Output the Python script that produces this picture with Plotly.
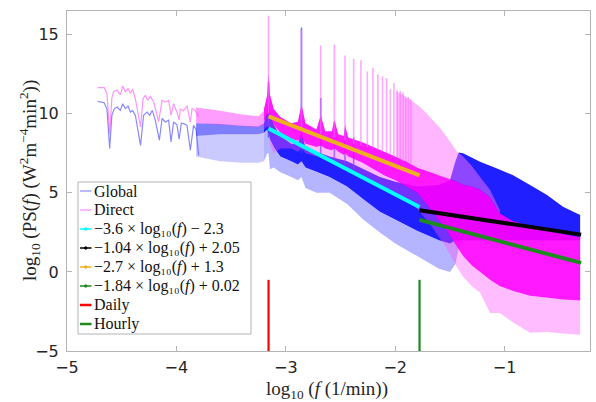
import numpy as np
import plotly.graph_objects as go

# ---------------- data ----------------
# Low-frequency part of the spectra (individual points visible)
GLOBAL_LF_X = [-4.72, -4.66, -4.635, -4.61, -4.59, -4.567, -4.542, -4.512, -4.491, -4.467, -4.442,
               -4.421, -4.40, -4.375, -4.328, -4.30, -4.268, -4.245, -4.22, -4.193, -4.156, -4.131,
               -4.101, -4.071, -4.049, -4.026, -3.995, -3.975, -3.955, -3.934, -3.903, -3.873,
               -3.843, -3.82, -3.797]
GLOBAL_LF_Y = [10.79, 10.7, 10.3, 7.8, 9.9, 10.33, 10.43, 10.22, 10.64, 10.33, 10.49,
               10.11, 10.2, 9.9, 8.0, 9.9, 10.11, 9.9, 10.22, 9.6, 8.33, 9.7,
               9.48, 9.6, 8.22, 9.48, 9.3, 8.4, 9.4, 9.38, 9.27, 7.7,
               9.27, 9.0, 7.38]
DIRECT_LF_X = [-4.72, -4.66, -4.635, -4.61, -4.59, -4.574, -4.542, -4.512, -4.491, -4.467, -4.442,
               -4.421, -4.40, -4.375, -4.328, -4.305, -4.284, -4.263, -4.238, -4.208, -4.163,
               -4.131, -4.101, -4.071, -4.049, -4.026, -3.995, -3.975, -3.964, -3.934, -3.903,
               -3.873, -3.857, -3.827, -3.797]
DIRECT_LF_Y = [11.65, 11.65, 11.3, 8.75, 11.0, 11.4, 11.5, 11.2, 11.75, 11.4, 11.6,
               11.3, 11.55, 10.95, 9.17, 10.96, 11.17, 10.85, 11.1, 10.75, 9.5,
               10.85, 10.75, 10.85, 9.9, 10.64, 10.1, 9.6, 10.3, 10.2, 10.5,
               9.48, 10.33, 10.2, 9.8]

# Transition part (-3.8 .. -3.2): oscillating, semi-transparent bands
LEFT_X = [-3.82, -3.6, -3.4, -3.25, -3.2]
DIRECT_LEFT_UP = [10.4, 10.2, 9.95, 9.85, 10.2]
DIRECT_LEFT_LO = [9.4, 9.3, 9.2, 9.15, 9.3]
GLOBAL_LEFT_UP = [9.4, 9.35, 9.25, 9.2, 9.4]
GLOBAL_LEFT_LO = [8.6, 8.7, 8.7, 8.7, 8.8]
GLOBAL_LEFT_TAIL = [7.3, 7.0, 6.9, 6.9, 7.0]

# Dense part of the Global spectrum: envelopes
GLOBAL_BAND_X = [-3.2, -3.17, -3.158, -3.145, -3.11, -3.05, -2.95, -2.89, -2.857, -2.82, -2.72,
                 -2.6, -2.44, -2.29, -2.14, -2.0, -1.8, -1.6, -1.5, -1.45, -1.42, -1.38, -1.225,
                 -1.07, -0.923, -0.768, -0.613, -0.467, -0.31]
GLOBAL_BAND_UP = [9.4, 10.2, 11.0, 10.0, 9.3, 8.6, 8.1, 8.1, 8.8, 7.9, 7.6,
                  7.3, 7.0, 6.5, 6.0, 5.7, 5.4, 5.5, 5.8, 7.0, 7.55, 7.5, 6.96,
                  6.54, 6.12, 5.49, 4.86, 4.12, 3.6]
GLOBAL_BAND_LO = [8.8, 9.0, 8.8, 8.4, 7.9, 7.3, 7.0, 6.8, 7.0, 6.6, 6.3,
                  6.0, 5.4, 4.6, 3.8, 3.3, 2.6, 2.0, 1.8, 2.0, 2.0, 2.0, 2.0,
                  2.0, 2.0, 2.0, 2.0, 2.0, 2.0]
GLOBAL_TAIL_LO = [7.0, 7.5, 7.5, 6.5, 6.6, 6.3, 6.0, 5.8, 6.0, 5.3, 5.0,
                  5.0, 4.3, 3.3, 2.5, 1.8, 1.0, 0.2, 0.0, 0.5, 1.5, 2.0, 2.0,
                  2.0, 2.0, 2.0, 2.0, 2.0, 2.0]

# Dense part of the Direct spectrum: envelopes
DIRECT_BAND_X = [-3.2, -3.17, -3.158, -3.145, -3.11, -3.05, -2.95, -2.89, -2.857, -2.82, -2.72,
                 -2.681, -2.64, -2.58, -2.556, -2.52, -2.47, -2.459, -2.43, -2.3, -2.2, -2.1,
                 -2.0, -1.9, -1.8, -1.68, -1.53, -1.435, -1.38, -1.3, -1.225, -1.134, -1.043,
                 -0.923, -0.768, -0.613, -0.467, -0.31]
DIRECT_BAND_UP = [10.3, 11.2, 12.5, 11.2, 10.3, 9.8, 9.4, 9.5, 10.6, 9.4, 9.0,
                  9.9, 8.9, 8.9, 9.6, 8.7, 8.6, 9.3, 8.5, 8.2, 7.9, 7.6,
                  7.3, 7.0, 6.6, 6.3, 5.9, 5.7, 5.5, 5.4, 5.2, 4.7, 3.7,
                  3.2, 2.9, 2.65, 2.4, 2.2]
DIRECT_BAND_LO = [9.5, 9.9, 10.0, 9.8, 9.3, 8.8, 8.4, 8.3, 8.5, 8.1, 7.9,
                  8.0, 7.8, 7.7, 7.8, 7.6, 7.4, 7.5, 7.3, 6.9, 6.5, 6.1,
                  5.8, 5.4, 5.0, 4.0, 2.6, 1.6, 1.0, 0.4, 0.0, -0.5, -0.9,
                  -1.2, -1.5, -1.65, -1.75, -1.8]
DIRECT_TAIL_LO = [9.0, 9.2, 9.2, 8.0, 7.5, 7.8, 7.8, 7.6, 7.8, 7.5, 7.3,
                  7.4, 7.2, 7.0, 7.0, 6.8, 6.6, 6.6, 6.5, 6.1, 5.7, 5.3,
                  5.0, 4.5, 4.0, 3.0, 1.5, 0.3, -0.3, -0.9, -1.3, -2.6, -2.6,
                  -3.2, -3.85, -3.8, -3.9, -3.97]

# Envelope of the dense harmonic spikes of the Direct spectrum
DIRECT_SPIKE_ENV_X = [-1.99, -1.93, -1.865, -1.836, -1.773, -1.711, -1.653, -1.59, -1.529, -1.47,
                      -1.435, -1.38, -1.3, -1.225, -1.134, -1.043]
DIRECT_SPIKE_ENV_TOP = [11.4, 11.2, 10.9, 10.75, 10.43, 10.0, 9.6, 9.1, 8.54, 7.9,
                        7.6, 7.3, 6.7, 6.0, 5.2, 3.9]
DIRECT_SPIKE_ENV_BASE = [7.3, 7.1, 6.9, 6.75, 6.55, 6.4, 6.2, 6.1, 5.9, 5.8,
                         5.7, 5.5, 5.4, 5.2, 4.7, 3.7]

# Daily harmonics (cycles per day) and peak heights
HARMONIC_CPD = list(range(1, 21))
DIRECT_PEAK = [16.2, 15.3, 14.32, 14.38, 13.69, 13.48, 13.38, 12.68, 12.91, 12.49,
               12.37, 12.26, 11.55, 11.94, 11.48, 11.44, 11.34, 11.0, 11.06, 10.9]
DIRECT_PEAK_BASE = [10.0, 9.0, 8.7, 8.5, 8.3, 8.1, 8.0, 7.9, 7.8, 7.7,
                    7.6, 7.5, 7.4, 7.3, 7.2, 7.1, 7.0, 7.0, 6.9, 6.8]
GLOBAL_PEAK_CPD = [1, 2, 3, 4, 5, 6]
GLOBAL_PEAK = [12.0, 15.45, 11.0, 9.5, 9.0, 8.5]
GLOBAL_PEAK_BASE = [8.5, 7.5, 7.2, 7.0, 6.8, 6.5]

MIN_PER_DAY = 1440.0

# Fitted lines (end points)
FIT_LABELS = ["\u22123.6 \u00d7 log\u2081\u2080(<i>f</i>) \u2212 2.3",
              "\u22121.04 \u00d7 log\u2081\u2080(<i>f</i>) + 2.05",
              "\u22122.7 \u00d7 log\u2081\u2080(<i>f</i>) + 1.3",
              "\u22121.84 \u00d7 log\u2081\u2080(<i>f</i>) + 0.02"]
FIT_X = [[-3.158, -1.778], [-1.778, -0.301], [-3.158, -1.778], [-1.778, -0.301]]
FIT_Y = [[9.07, 4.10], [3.90, 2.36], [9.83, 6.10], [3.29, 0.57]]
FIT_COLORS = ["#00ffff", "#000000", "#edb120", "#1f8a1f"]

# Daily and hourly markers
MARK_LABELS = ["Daily", "Hourly"]
MARK_X = [-3.158, -1.778]
MARK_Y = [-5.0, -0.5]
MARK_COLORS = ["#ff0000", "#1f8a1f"]

XTICKS = [-5, -4, -3, -2, -1]
YTICKS = [-5, 0, 5, 10, 15]

# Legend entries (label, colour, has dot marker)
LEGEND_LABELS = ["Global", "Direct"] + FIT_LABELS + MARK_LABELS
LEGEND_COLORS = ["#a3a3ff", "#ffa3ff"] + FIT_COLORS + MARK_COLORS
LEGEND_DOT = [False, False, True, True, True, True, False, False]
LEGEND_WIDTH = [1.5, 1.5, 1.5, 1.5, 1.5, 1.5, 2.5, 2.5]

# ---------------- figure ----------------
fig = go.Figure()


def band(xs, lo, hi, color):
    px = list(xs) + list(xs)[::-1]
    py = list(hi) + list(lo)[::-1]
    return go.Scatter(x=px, y=py, fill="toself", fillcolor=color, mode="lines",
                      line=dict(width=0), hoverinfo="skip", showlegend=False)


def spikes(xs, base, top, color, width):
    sx, sy = [], []
    for x, b, t in zip(xs, base, top):
        sx += [x, x, None]
        sy += [b, t, None]
    return go.Scatter(x=sx, y=sy, mode="lines", line=dict(color=color, width=width),
                      hoverinfo="skip", showlegend=False)


# Global
fig.add_trace(go.Scatter(x=GLOBAL_LF_X, y=GLOBAL_LF_Y, mode="lines", name="Global",
                         line=dict(color="rgba(40,40,255,0.55)", width=1.2), showlegend=False))
fig.add_trace(band(LEFT_X, GLOBAL_LEFT_TAIL, GLOBAL_LEFT_LO, "rgba(90,90,255,0.32)"))
fig.add_trace(band(LEFT_X, GLOBAL_LEFT_LO, GLOBAL_LEFT_UP, "rgba(40,40,255,0.6)"))
fig.add_trace(band(GLOBAL_BAND_X, GLOBAL_TAIL_LO, GLOBAL_BAND_LO, "rgba(70,70,255,0.4)"))
fig.add_trace(band(GLOBAL_BAND_X, GLOBAL_BAND_LO, GLOBAL_BAND_UP, "rgba(0,0,255,0.88)"))
gx = [np.log10(c / MIN_PER_DAY) for c in GLOBAL_PEAK_CPD]
fig.add_trace(spikes(gx, GLOBAL_PEAK_BASE, GLOBAL_PEAK, "rgba(60,60,255,0.7)", 1.6))

# Direct
fig.add_trace(go.Scatter(x=DIRECT_LF_X, y=DIRECT_LF_Y, mode="lines", name="Direct",
                         line=dict(color="rgba(255,60,255,0.55)", width=1.2), showlegend=False))
fig.add_trace(band(LEFT_X, DIRECT_LEFT_LO, DIRECT_LEFT_UP, "rgba(255,60,255,0.5)"))
fig.add_trace(band(DIRECT_BAND_X, DIRECT_TAIL_LO, DIRECT_BAND_LO, "rgba(255,80,255,0.38)"))
fig.add_trace(band(DIRECT_SPIKE_ENV_X, DIRECT_SPIKE_ENV_BASE, DIRECT_SPIKE_ENV_TOP,
                   "rgba(255,110,255,0.5)"))
fig.add_trace(band(DIRECT_BAND_X, DIRECT_BAND_LO, DIRECT_BAND_UP, "rgba(255,0,255,0.9)"))
dx = [np.log10(c / MIN_PER_DAY) for c in HARMONIC_CPD]
fig.add_trace(spikes(dx, DIRECT_PEAK_BASE, DIRECT_PEAK, "rgba(255,110,255,0.6)", 1.6))

# Fits
for lab, xs, ys, col in zip(FIT_LABELS, FIT_X, FIT_Y, FIT_COLORS):
    fig.add_trace(go.Scatter(x=xs, y=ys, mode="lines", name=lab, showlegend=False,
                             line=dict(color=col, width=4)))

# Daily / hourly
for lab, x, col in zip(MARK_LABELS, MARK_X, MARK_COLORS):
    fig.add_trace(go.Scatter(x=[x, x], y=MARK_Y, mode="lines", name=lab, showlegend=False,
                             line=dict(color=col, width=2.2)))

# ---- legend box drawn in paper coordinates (MATLAB-like compact legend) ----
PLOT_L, PLOT_R, PLOT_T, PLOT_B = 67, 590, 11, 351


def pxx(p):
    return (p - PLOT_L) / (PLOT_R - PLOT_L)


def pxy(p):
    return (PLOT_B - p) / (PLOT_B - PLOT_T)


shapes = [dict(type="rect", xref="paper", yref="paper", x0=pxx(78), x1=pxx(251),
               y0=pxy(334), y1=pxy(182), line=dict(color="#b4b4b4", width=1),
               fillcolor="white", layer="above")]
annotations = []
for i, (lab, col, dot, w) in enumerate(zip(LEGEND_LABELS, LEGEND_COLORS, LEGEND_DOT, LEGEND_WIDTH)):
    yc = 191 + 19 * i
    shapes.append(dict(type="line", xref="paper", yref="paper", x0=pxx(80), x1=pxx(91.5),
                       y0=pxy(yc), y1=pxy(yc), line=dict(color=col, width=w), layer="above"))
    if dot:
        shapes.append(dict(type="circle", xref="paper", yref="paper",
                           x0=pxx(84.5), x1=pxx(87), y0=pxy(yc + 1.25), y1=pxy(yc - 1.25),
                           line=dict(color=col, width=1), fillcolor=col, layer="above"))
    annotations.append(dict(text=lab, xref="paper", yref="paper", x=pxx(92), y=pxy(yc),
                            xanchor="left", yanchor="middle", showarrow=False,
                            font=dict(family="Liberation Serif", size=16, color="#111111")))

# axis titles
annotations.append(dict(text="log<sub>10</sub> (<i>f</i> (1/min))", xref="paper", yref="paper",
                        x=pxx(327), y=pxy(390), xanchor="center", yanchor="middle",
                        showarrow=False,
                        font=dict(family="Liberation Serif", size=19, color="#262626")))
annotations.append(dict(text="log<sub>10</sub> (PS(<i>f</i>) (W<sup>2</sup>m<sup>\u22124</sup>min<sup>2</sup>))",
                        xref="paper", yref="paper", x=pxx(29), y=pxy(181), textangle=-90,
                        xanchor="center", yanchor="middle", showarrow=False,
                        font=dict(family="Liberation Serif", size=19, color="#262626")))

axis_common = dict(showline=True, linecolor="#b4b4b4", linewidth=1, mirror="allticks",
                   ticks="inside", ticklen=5, tickcolor="#b4b4b4", showgrid=False,
                   zeroline=False, automargin=False,
                   tickfont=dict(family="DejaVu Sans", size=16, color="#262626"))

fig.update_layout(
    width=596, height=402,
    margin=dict(l=PLOT_L, r=596 - PLOT_R, t=PLOT_T, b=402 - PLOT_B),
    paper_bgcolor="white", plot_bgcolor="white",
    xaxis=dict(range=[-5, -0.22], tickvals=XTICKS,
               ticktext=[("\u2212" + str(abs(v))) if v < 0 else str(v) for v in XTICKS],
               ticklabelstandoff=2, **axis_common),
    yaxis=dict(range=[-5, 16.5], tickvals=YTICKS,
               ticktext=[("\u2212" + str(abs(v))) if v < 0 else str(v) for v in YTICKS],
               ticklabelstandoff=4, **axis_common),
    shapes=shapes,
    annotations=annotations,
    showlegend=False,
)

fig.write_html("out.html", config={"displayModeBar": False},
               post_script="document.body.style.margin='0';")
